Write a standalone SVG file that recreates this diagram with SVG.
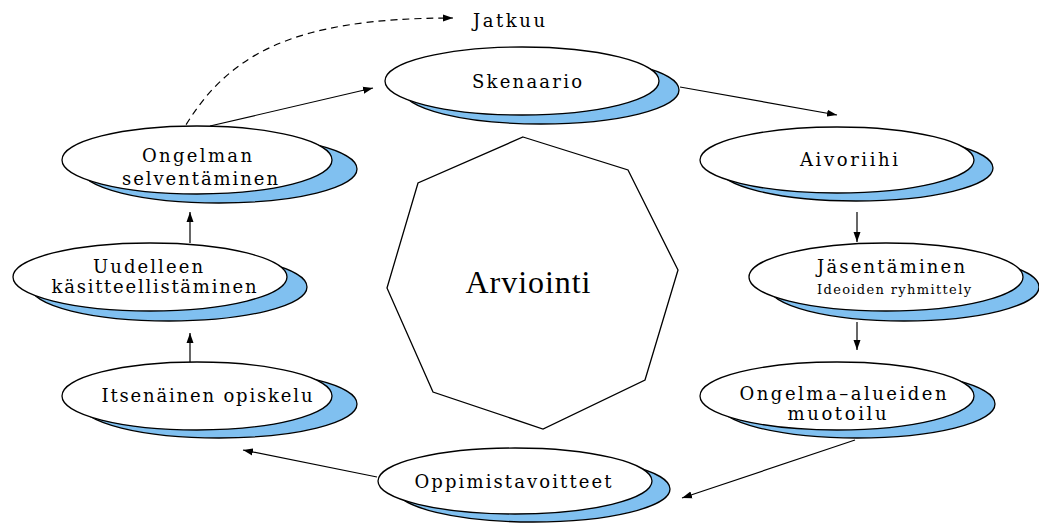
<svg xmlns="http://www.w3.org/2000/svg" width="1039" height="524" viewBox="0 0 1039 524">
<style>
.bg{fill:#fff}
.sh{fill:#80c0f0;stroke:#000;stroke-width:1.3}
.el{fill:#fff;stroke:#000;stroke-width:1.3}
.t{font-family:"DejaVu Serif","Liberation Serif",serif;font-size:18px;fill:#000;text-anchor:middle}
.s{font-size:13px}
.big{font-family:"Liberation Serif","DejaVu Serif",serif;font-size:32px}
.ln{fill:none;stroke:#000;stroke-width:1.2}
.dash{stroke-dasharray:7 5}
.oct{fill:#fff;stroke:#000;stroke-width:1.3}
</style>
<defs>
<marker id="ah" markerUnits="userSpaceOnUse" markerWidth="12" markerHeight="8" refX="10" refY="4" orient="auto">
<path d="M0,0.5 L10,4 L0,7.5 Z" fill="#000"/>
</marker>
</defs>
<rect class="bg" x="0" y="0" width="1039" height="524"/>

<g id="connectors">
<path class="ln dash" d="M180,135 C225,55 290,18 453,18" marker-end="url(#ah)"/>
<line class="ln" x1="210" y1="126" x2="373" y2="88" marker-end="url(#ah)"/>
<line class="ln" x1="680" y1="87" x2="837" y2="115" marker-end="url(#ah)"/>
<line class="ln" x1="857" y1="212" x2="857" y2="242" marker-end="url(#ah)"/>
<line class="ln" x1="857" y1="322" x2="857" y2="350" marker-end="url(#ah)"/>
<line class="ln" x1="855" y1="440" x2="682" y2="498" marker-end="url(#ah)"/>
<line class="ln" x1="377" y1="477" x2="243" y2="450" marker-end="url(#ah)"/>
<line class="ln" x1="190" y1="362" x2="190" y2="333" marker-end="url(#ah)"/>
<line class="ln" x1="190" y1="243" x2="190" y2="212" marker-end="url(#ah)"/>
</g>

<g id="jatkuu"><text class="t" x="509" y="27" textLength="72" lengthAdjust="spacing">Jatkuu</text></g>

<g id="skenaario">
<ellipse class="sh" cx="541" cy="90" rx="138" ry="34"/>
<ellipse class="el" cx="522" cy="81" rx="137" ry="34"/>
<text class="t" x="527" y="88" textLength="110" lengthAdjust="spacing">Skenaario</text>
</g>

<g id="aivoriihi">
<ellipse class="sh" cx="856" cy="168" rx="137" ry="33"/>
<ellipse class="el" cx="837" cy="160" rx="137" ry="33"/>
<text class="t" x="849" y="166" textLength="98" lengthAdjust="spacing">Aivoriihi</text>
</g>

<g id="jasentaminen">
<ellipse class="sh" cx="904" cy="287" rx="135" ry="34"/>
<ellipse class="el" cx="886" cy="277" rx="137" ry="34"/>
<text class="t" x="891" y="273" textLength="148" lengthAdjust="spacing">Jäsentäminen</text>
<text class="t s" x="894" y="294" textLength="154" lengthAdjust="spacing">Ideoiden ryhmittely</text>
</g>

<g id="ongelma-alueiden">
<ellipse class="sh" cx="857" cy="404" rx="138" ry="34"/>
<ellipse class="el" cx="837" cy="396" rx="137" ry="34"/>
<text class="t" x="843" y="400" textLength="207" lengthAdjust="spacing">Ongelma–alueiden</text>
<text class="t" x="837" y="420" textLength="99" lengthAdjust="spacing">muotoilu</text>
</g>

<g id="oppimistavoitteet">
<ellipse class="sh" cx="533" cy="489" rx="137" ry="33"/>
<ellipse class="el" cx="515" cy="481" rx="137" ry="33"/>
<text class="t" x="513" y="488" textLength="197" lengthAdjust="spacing">Oppimistavoitteet</text>
</g>

<g id="itsenainen">
<ellipse class="sh" cx="219" cy="404" rx="138" ry="34"/>
<ellipse class="el" cx="197" cy="396" rx="135" ry="34"/>
<text class="t" x="207" y="402" textLength="211" lengthAdjust="spacing">Itsenäinen opiskelu</text>
</g>

<g id="uudelleen">
<ellipse class="sh" cx="169" cy="287" rx="138" ry="34"/>
<ellipse class="el" cx="150" cy="277" rx="137" ry="34"/>
<text class="t" x="148" y="273" textLength="110" lengthAdjust="spacing">Uudelleen</text>
<text class="t" x="154" y="293" textLength="205" lengthAdjust="spacing">käsitteellistäminen</text>
</g>

<g id="ongelman">
<ellipse class="sh" cx="219" cy="169" rx="138" ry="34"/>
<ellipse class="el" cx="197" cy="160" rx="135" ry="34"/>
<text class="t" x="197" y="162" textLength="110" lengthAdjust="spacing">Ongelman</text>
<text class="t" x="200" y="185" textLength="156" lengthAdjust="spacing">selventäminen</text>
</g>

<g id="arviointi">
<polygon class="oct" points="523,137 628,170 678,270 645,380 543,429 433,392 387,288 418,183"/>
<text class="t big" x="528" y="293" textLength="125" lengthAdjust="spacing">Arviointi</text>
</g>
</svg>
